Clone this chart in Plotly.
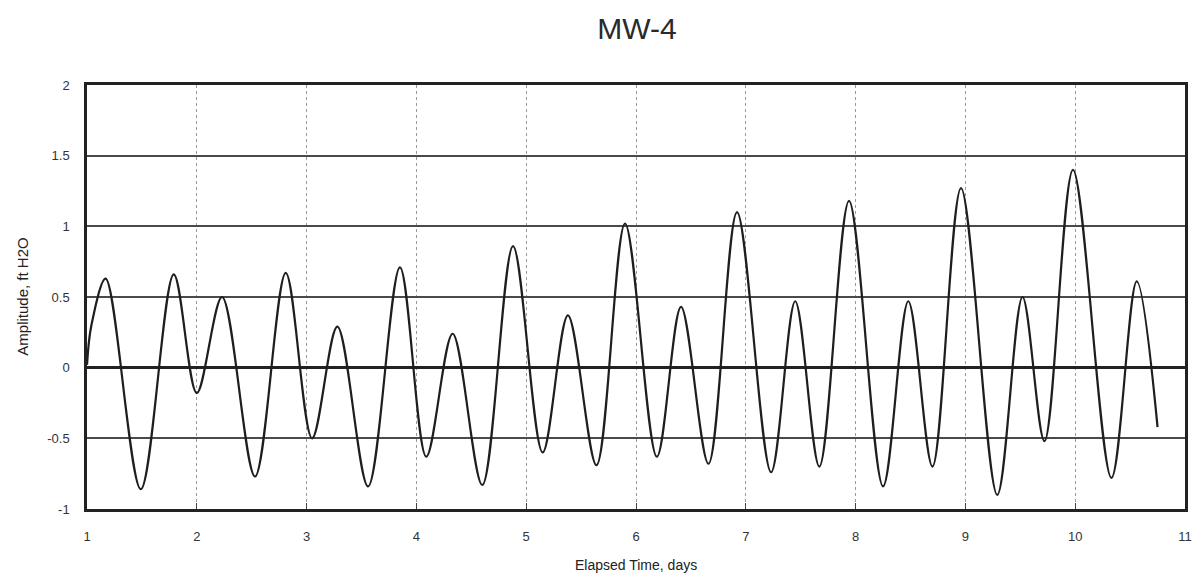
import plotly.graph_objects as go

# Extrema (elapsed days, amplitude ft H2O)
days = [1.00, 1.04, 1.17, 1.49, 1.79, 2.00, 2.23, 2.53, 2.81, 3.05, 3.28, 3.56,
        3.85, 4.09, 4.33, 4.60, 4.88, 5.15, 5.38, 5.64, 5.90, 6.19, 6.41, 6.66,
        6.92, 7.23, 7.45, 7.67, 7.94, 8.25, 8.48, 8.70, 8.96, 9.29, 9.52, 9.72,
        9.98, 10.33, 10.56, 10.75]
amplitude = [0.02, 0.30, 0.63, -0.86, 0.66, -0.18, 0.50, -0.77, 0.67, -0.50, 0.29, -0.84,
             0.71, -0.63, 0.24, -0.83, 0.86, -0.60, 0.37, -0.69, 1.02, -0.63, 0.43, -0.68,
             1.10, -0.74, 0.47, -0.70, 1.18, -0.84, 0.47, -0.70, 1.27, -0.90, 0.50, -0.52,
             1.40, -0.78, 0.61, -0.42]

x_ticks = [1, 2, 3, 4, 5, 6, 7, 8, 9, 10, 11]
y_ticks = [-1, -0.5, 0, 0.5, 1, 1.5, 2]
y_tick_labels = ["-1", "-0.5", "0", "0.5", "1", "1.5", "2"]

fig = go.Figure()
fig.add_trace(go.Scatter(
    x=days, y=amplitude, mode="lines",
    line=dict(color="#1e1e1e", width=2.2, shape="spline", smoothing=0.95),
    showlegend=False, hoverinfo="skip"))

font = "Liberation Sans, Arial, sans-serif"
fig.update_layout(
    width=1193, height=573,
    margin=dict(l=87, r=8, t=85, b=64),
    paper_bgcolor="white", plot_bgcolor="white",
    font=dict(family=font, color="#333"),
    title=dict(text="MW-4", x=0.534, xanchor="center", y=0.951, yanchor="middle",
               font=dict(size=30, family=font, color="#2a2a2a")),
    xaxis=dict(range=[1, 11], tickmode="array", tickvals=x_ticks, automargin=False,
               showgrid=True, gridcolor="#9a9a9a", griddash="dot", gridwidth=1,
               showline=True, linecolor="#222", linewidth=2.5, mirror=True,
               ticks="inside", ticklen=6, tickcolor="#444",
               tickfont=dict(size=13, color="#333"), ticklabelstandoff=14,
               zeroline=False),
    yaxis=dict(range=[-1, 2], tickmode="array", tickvals=y_ticks, ticktext=y_tick_labels,
               automargin=False,
               showgrid=True, gridcolor="#4a4a4a", gridwidth=1.5,
               showline=True, linecolor="#222", linewidth=2.5, mirror=True,
               ticks="", tickfont=dict(size=13, color="#333"), ticklabelstandoff=12,
               zeroline=True, zerolinecolor="#222", zerolinewidth=2.5),
    annotations=[
        dict(text="Elapsed Time, days", xref="paper", yref="paper",
             x=0.5, y=-0.133, xanchor="center", yanchor="middle", showarrow=False,
             font=dict(size=14, color="#222", family=font)),
        dict(text="Amplitude, ft H2O", xref="paper", yref="paper",
             x=-0.0595, y=0.5, xanchor="center", yanchor="middle", showarrow=False,
             textangle=-90, font=dict(size=15, color="#222", family=font)),
    ],
)

fig.write_html("out.html")
